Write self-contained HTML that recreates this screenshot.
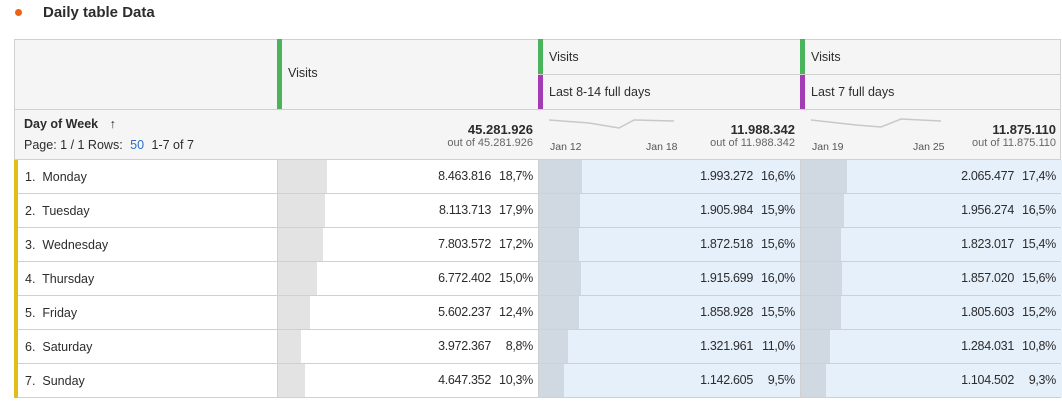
<!DOCTYPE html><html><head><style>
body{margin:0;width:1062px;height:403px;background:#fff;font-family:"Liberation Sans",sans-serif;color:#2c2c2c;position:relative;overflow:hidden}
.a{position:absolute}
.t{font-size:12.5px}
.hd{background:#f5f5f5}
.num{position:absolute;right:6px;top:9px;font-size:12.5px;letter-spacing:-0.3px;white-space:nowrap}
.num span{display:inline-block;width:42px;text-align:right}
</style></head><body>
<div class="a" style="left:15px;top:9px;width:7px;height:7px;border-radius:50%;background:#e8641b"></div>
<div class="a" style="left:43px;top:4px;font-size:15px;font-weight:bold;color:#2c2c2c">Daily table Data</div>

<div class="a hd" style="left:14px;top:39px;width:1047px;height:121px;border:1px solid #d0d0d0;box-sizing:border-box"></div>
<div class="a" style="left:14px;top:109px;width:1047px;height:1px;background:#d0d0d0"></div>
<div class="a" style="left:538px;top:74px;width:523px;height:1px;background:#d0d0d0"></div>
<div class="a" style="left:277px;top:39px;width:5px;height:70px;background:#4bb35b"></div>
<div class="a" style="left:538px;top:39px;width:5px;height:35px;background:#4bb35b"></div>
<div class="a" style="left:538px;top:75px;width:5px;height:34px;background:#a23bb5"></div>
<div class="a" style="left:800px;top:39px;width:5px;height:35px;background:#4bb35b"></div>
<div class="a" style="left:800px;top:75px;width:5px;height:34px;background:#a23bb5"></div>
<div class="a t" style="left:288px;top:66px">Visits</div>
<div class="a t" style="left:549px;top:50px">Visits</div>
<div class="a t" style="left:549px;top:85px">Last 8-14 full days</div>
<div class="a t" style="left:811px;top:50px">Visits</div>
<div class="a t" style="left:811px;top:85px">Last 7 full days</div>

<div class="a" style="left:24px;top:117px;font-size:12.5px;font-weight:bold">Day of Week <span style="font-weight:normal;margin-left:8px">&#8593;</span></div>
<div class="a" style="left:24px;top:138px;font-size:12.5px">Page: 1 / 1 Rows: <span style="color:#2b6fc7;margin:0 4px">50</span> 1-7 of 7</div>

<div class="a" style="right:529px;top:122px;font-size:13px;font-weight:bold;text-align:right">45.281.926</div>
<div class="a" style="right:529px;top:137px;font-size:11px;color:#666;text-align:right">out of 45.281.926</div>
<div class="a" style="right:267px;top:122px;font-size:13px;font-weight:bold">11.988.342</div>
<div class="a" style="right:267px;top:137px;font-size:11px;color:#666">out of 11.988.342</div>
<div class="a" style="right:6px;top:122px;font-size:13px;font-weight:bold">11.875.110</div>
<div class="a" style="right:6px;top:137px;font-size:11px;color:#666">out of 11.875.110</div>
<svg class="a" style="left:549px;top:115px" width="125" height="20"><polyline points="0,5 40,8 70,13 85,5 125,6" fill="none" stroke="#c8c8c8" stroke-width="1.5"/></svg>
<svg class="a" style="left:811px;top:115px" width="130" height="20"><polyline points="0,5 45,10 70,12 90,4 130,6" fill="none" stroke="#c8c8c8" stroke-width="1.5"/></svg>
<div class="a" style="left:550px;top:141px;font-size:10.5px;color:#555">Jan 12</div>
<div class="a" style="left:646px;top:141px;font-size:10.5px;color:#555">Jan 18</div>
<div class="a" style="left:812px;top:141px;font-size:10.5px;color:#555">Jan 19</div>
<div class="a" style="left:913px;top:141px;font-size:10.5px;color:#555">Jan 25</div>

<div id="rows"></div>
<script>
var d=[["Monday","8.463.816","18,7%",49,"1.993.272","16,6%",43,"2.065.477","17,4%",46],
["Tuesday","8.113.713","17,9%",47,"1.905.984","15,9%",41,"1.956.274","16,5%",43],
["Wednesday","7.803.572","17,2%",45,"1.872.518","15,6%",40,"1.823.017","15,4%",40],
["Thursday","6.772.402","15,0%",39,"1.915.699","16,0%",42,"1.857.020","15,6%",41],
["Friday","5.602.237","12,4%",32,"1.858.928","15,5%",40,"1.805.603","15,2%",40],
["Saturday","3.972.367","8,8%",23,"1.321.961","11,0%",29,"1.284.031","10,8%",29],
["Sunday","4.647.352","10,3%",27,"1.142.605","9,5%",25,"1.104.502","9,3%",25]];
var h="";
d.forEach(function(r,i){var y=160+34*i;
h+='<div class="a" style="left:14px;top:'+y+'px;width:1047px;height:34px;border:1px solid #d0d0d0;border-top:none;box-sizing:border-box"></div>';
h+='<div class="a" style="left:14px;top:'+y+'px;width:4px;height:34px;background:#e0bd1a"></div>';
h+='<div class="a t" style="left:25px;top:'+(y+10)+'px">'+(i+1)+'.&nbsp; '+r[0]+'</div>';
h+='<div class="a" style="left:277px;top:'+y+'px;width:261px;height:33px;border-left:1px solid #d0d0d0"><div class="a" style="left:0;top:0;width:'+r[3]+'px;height:33px;background:#e3e3e3"></div><div class="num">'+r[1]+'<span>'+r[2]+'</span></div></div>';
h+='<div class="a" style="left:538px;top:'+y+'px;width:262px;height:33px;border-left:1px solid #d0d0d0;background:#e6f0fb"><div class="a" style="left:0;top:0;width:'+r[6]+'px;height:33px;background:#d0d8e2"></div><div class="num">'+r[4]+'<span>'+r[5]+'</span></div></div>';
h+='<div class="a" style="left:800px;top:'+y+'px;width:261px;height:33px;border-left:1px solid #d0d0d0;background:#e6f0fb"><div class="a" style="left:0;top:0;width:'+r[9]+'px;height:33px;background:#d0d8e2"></div><div class="num">'+r[7]+'<span>'+r[8]+'</span></div></div>';
});
document.getElementById("rows").innerHTML=h;
</script>
</body></html>
